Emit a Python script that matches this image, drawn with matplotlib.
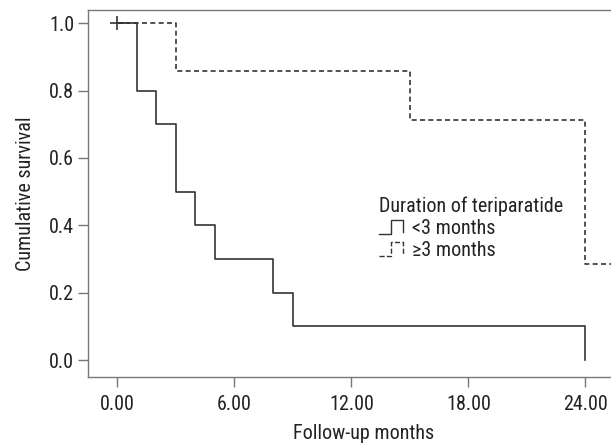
import matplotlib
matplotlib.use("Agg")
import matplotlib.pyplot as plt
from matplotlib.lines import Line2D
from matplotlib.legend_handler import HandlerBase

plt.rcParams['font.family'] = ['Roboto Condensed', 'Roboto', 'DejaVu Sans']

# Kaplan-Meier step data
t_short = [0, 1, 2, 3, 4, 5, 8, 9, 24]
s_short = [1.0, 0.8, 0.7, 0.5, 0.4, 0.3, 0.2, 0.1, 0.0]
t_long = [0, 3, 15, 24, 27]
s_long = [1.0, 0.857, 0.714, 0.286, 0.286]
censor_t = [0]
censor_s = [1.0]

xticks = [0, 6, 12, 18, 24]
xtick_labels = ["0.00", "6.00", "12.00", "18.00", "24.00"]
yticks = [0.0, 0.2, 0.4, 0.6, 0.8, 1.0]
ytick_labels = ["0.0", "0.2", "0.4", "0.6", "0.8", "1.0"]

col = "#333333"
fs = 14.5


class StepHandler(HandlerBase):
    # draws the little step glyph used in SPSS survival legends
    def create_artists(self, legend, orig, xd, yd, w, h, fontsize, trans):
        xs = [xd, xd + 0.45 * w, xd + 0.45 * w, xd + 0.9 * w, xd + 0.9 * w]
        ys = [yd, yd, yd + 1.0 * h, yd + 1.0 * h, yd + 0.1 * h]
        ln = Line2D(xs, ys, color=orig.get_color(), linestyle=orig.get_linestyle(),
                    linewidth=1.0, transform=trans)
        return [ln]


fig = plt.figure(figsize=(6.11, 4.43), dpi=100)
ax = fig.add_axes([88 / 611, 66 / 443, 552 / 611, 367 / 443])

ax.plot(t_short, s_short, drawstyle='steps-post', color=col, lw=1.2, label='<3 months')
ax.plot(t_long, s_long, drawstyle='steps-post', color=col, lw=1.2, ls=(0, (3, 2)),
        label='\u22653 months')
ax.plot(censor_t, censor_s, marker='+', ms=10, mew=1.2, color=col, ls='none')

ax.set_xlim(-1.5, 26.8)
ax.set_ylim(-0.05, 1.039)
ax.set_xticks(xticks)
ax.set_xticklabels(xtick_labels)
ax.set_yticks(yticks)
ax.set_yticklabels(ytick_labels)
ax.tick_params(direction='out', length=7, width=1, color='#777777',
               labelsize=fs, labelcolor='#222222', pad=3)
ax.tick_params(axis='x', pad=6)
for sp in ax.spines.values():
    sp.set_color('#777777')
    sp.set_linewidth(1)

ax.set_xlabel('Follow-up months', fontsize=fs, color='#222222', labelpad=7)
ax.set_ylabel('Cumulative survival', fontsize=fs, color='#222222', labelpad=10)

h, l = ax.get_legend_handles_labels()
leg = ax.legend(h[:2], l[:2], title='Duration of teriparatide', frameon=False,
                handler_map={Line2D: StepHandler()}, fontsize=fs, title_fontsize=fs,
                loc='upper left', bbox_to_anchor=(0.509, 0.52), handlelength=1.3,
                handletextpad=0.35, labelspacing=0.15, borderpad=0, alignment='left')
for txt in leg.get_texts():
    txt.set_color('#222222')
leg.get_title().set_color('#222222')

fig.savefig('out.png', dpi=100)
